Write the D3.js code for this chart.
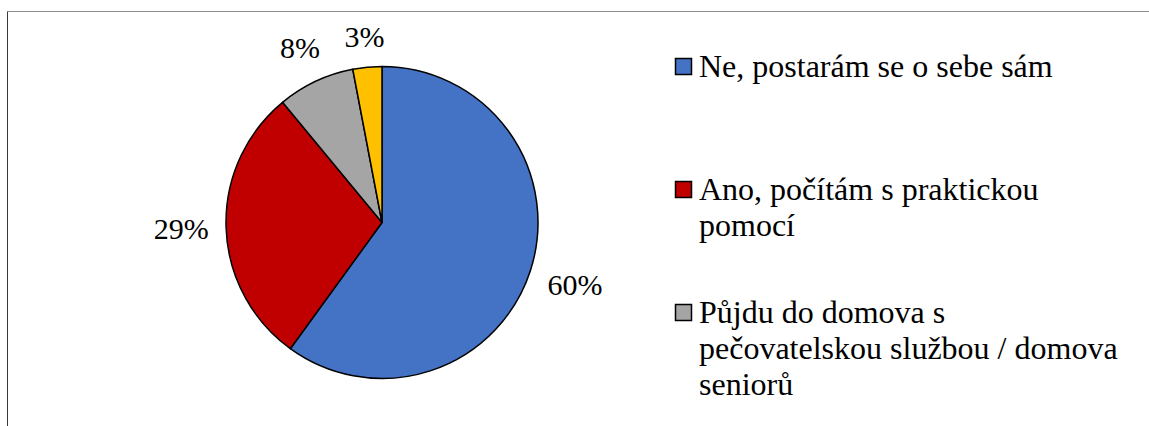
<!DOCTYPE html>
<html>
<head>
<meta charset="utf-8">
<script src="https://cdn.jsdelivr.net/npm/d3@7"></script>
<style>
  html, body { margin: 0; padding: 0; background: #ffffff; }
  svg { display: block; }
  svg text { font-family: "Liberation Serif", "Times New Roman", "DejaVu Serif", serif; }
</style>
</head>
<body>
<svg id="chart" width="1149" height="426"></svg>
<script>
// Survey answers, shares in percent
const categories = [
  "Ne, postarám se o sebe sám",
  "Ano, počítám s praktickou pomocí",
  "Půjdu do domova s pečovatelskou službou / domova seniorů",
  "Jiné"
];
const values = [60, 29, 8, 3];
const valueLabels = ["60%", "29%", "8%", "3%"];
const colors = ["#4472C4", "#C00000", "#A5A5A5", "#FFC000"];
// Legend lines as wrapped in the legend box (the last entry falls outside the frame)
const legendLines = [
  ["Ne, postarám se o sebe sám"],
  ["Ano, počítám s praktickou", "pomocí"],
  ["Půjdu do domova s", "pečovatelskou službou / domova", "seniorů"]
];

const W = 1149, H = 426;
const svg = d3.select("#chart");

// Frame of the chart area
svg.append("line").attr("x1", 7.5).attr("x2", W).attr("y1", 11.5).attr("y2", 11.5)
  .attr("stroke", "#8c8c8c").attr("stroke-width", 1);
svg.append("line").attr("x1", 7.5).attr("x2", 7.5).attr("y1", 11.5).attr("y2", H)
  .attr("stroke", "#3a3a3a").attr("stroke-width", 1);

// Pie
const cx = 382, cy = 222.5, R = 156;
const pie = d3.pie().sort(null).value(d => d)(values);
const arc = d3.arc().innerRadius(0).outerRadius(R);
const g = svg.append("g").attr("transform", `translate(${cx},${cy})`);

g.selectAll("path.slice")
  .data(pie)
  .join("path")
  .attr("class", "slice")
  .attr("d", arc)
  .attr("fill", (d, i) => colors[i])
  .attr("stroke", "#000")
  .attr("stroke-width", 1.5)
  .attr("stroke-linejoin", "round");

// Percentage labels, placed just outside the rim along each slice's mid-angle
const labelFont = 30, gap = 17;
const labels = g.selectAll("text.pct")
  .data(pie)
  .join("text")
  .attr("class", "pct")
  .attr("fill", "#000")
  .attr("text-anchor", "middle")
  .attr("font-size", labelFont)
  .attr("dy", "0.34em")
  .text((d, i) => valueLabels[i]);

labels.each(function (d) {
  const bb = this.getBBox();
  const a = (d.startAngle + d.endAngle) / 2;
  const ux = Math.sin(a), uy = -Math.cos(a);
  const hw = bb.width / 2, hh = 0.34 * labelFont + 2;
  const ext = Math.abs(ux) * hw + Math.abs(uy) * hh;
  const dist = R + gap + ext;
  d3.select(this).attr("x", ux * dist).attr("y", uy * dist);
});

// Legend
const legFont = 32, lineH = 36, slot = 123;
const legX = 675, legY0 = 77, box = 16;
const leg = svg.append("g");
legendLines.forEach((lines, i) => {
  const y = legY0 + i * slot;
  leg.append("rect")
    .attr("x", legX + 0.5).attr("y", y - 19 + 0.5)
    .attr("width", box).attr("height", box)
    .attr("fill", colors[i]).attr("stroke", "#000").attr("stroke-width", 1.5);
  const t = leg.append("text")
    .attr("x", legX + 24).attr("y", y)
    .attr("fill", "#000")
    .attr("font-size", legFont);
  lines.forEach((ln, j) => {
    t.append("tspan").attr("x", legX + 24).attr("y", y + j * lineH).text(ln);
  });
});
</script>
</body>
</html>
